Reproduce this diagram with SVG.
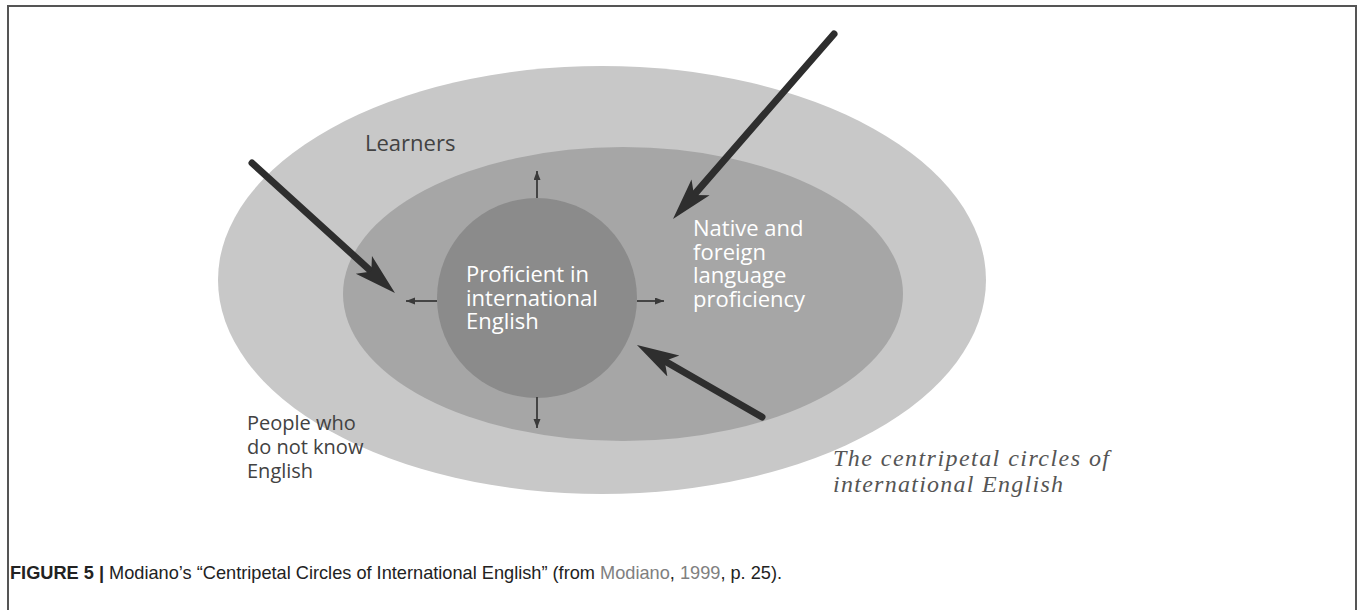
<svg xmlns="http://www.w3.org/2000/svg" width="1358" height="610" viewBox="0 0 1358 610">
  <style>
    .label { font-family: "Open Sans", "Noto Sans", sans-serif; font-size: 22px; }
    .small-label { font-size: 20px; }
    .light { fill: #ffffff; }
    .dark { fill: #424242; }
    .note { font-family: "Liberation Serif", serif; font-style: italic; font-size: 24px; fill: #555555; }
    .caption { font-family: "Liberation Sans", Arial, sans-serif; font-size: 18.2px; fill: #222222; }
    .cite { fill: #808080; }
    .big { fill: none; stroke: #2e2e2e; stroke-width: 7; stroke-linecap: round; marker-end: url(#bigHead); }
    .small { fill: none; stroke: #3a3a3a; stroke-width: 1.8; marker-end: url(#smallHead); }
  </style>
  <defs>
    <marker id="bigHead" markerUnits="userSpaceOnUse" markerWidth="44" markerHeight="28" refX="10" refY="14" orient="auto">
      <path d="M0,2 L42,14 L0,26 L10,14 Z" fill="#2e2e2e"/>
    </marker>
    <marker id="smallHead" markerUnits="userSpaceOnUse" markerWidth="10" markerHeight="8" refX="9" refY="3.5" orient="auto">
      <path d="M0,0 L9,3.5 L0,7 Z" fill="#3a3a3a"/>
    </marker>
  </defs>

  <rect width="1358" height="610" fill="#ffffff"/>
  <!-- figure frame (open at the bottom) -->
  <rect x="8" y="6" width="1348" height="640" fill="none" stroke="#555555" stroke-width="2"/>

  <g id="outer-circle">
    <ellipse cx="602" cy="280" rx="384" ry="214" fill="#c8c8c8"/>
    <text class="label dark" x="365" y="151">Learners</text>
  </g>

  <g id="middle-circle">
    <ellipse cx="623" cy="294" rx="280" ry="147" fill="#a6a6a6"/>
    <text class="label light">
      <tspan x="693" y="236">Native and</tspan>
      <tspan x="693" y="259.5">foreign</tspan>
      <tspan x="693" y="283">language</tspan>
      <tspan x="693" y="306.5">proficiency</tspan>
    </text>
  </g>

  <g id="inner-circle">
    <circle cx="537" cy="298" r="100" fill="#8b8b8b"/>
    <text class="label light">
      <tspan x="466" y="282">Proficient in</tspan>
      <tspan x="466" y="305.5">international</tspan>
      <tspan x="466" y="329">English</tspan>
    </text>
  </g>

  <g id="outside">
    <text class="label small-label dark">
      <tspan x="247" y="430">People who</tspan>
      <tspan x="247" y="454">do not know</tspan>
      <tspan x="247" y="478">English</tspan>
    </text>
  </g>

  <g id="connectors">
    <!-- heavy inward arrows -->
    <path class="big" d="M252,163 L371.3,271.5"/>
    <path class="big" d="M834,34 L694,194.9"/>
    <path class="big" d="M762,417 L664.7,361"/>
    <!-- thin outward arrows from the inner circle -->
    <path class="small" d="M537,198 L537,171"/>
    <path class="small" d="M537,397 L537,428"/>
    <path class="small" d="M437,301 L406,301"/>
    <path class="small" d="M637,301 L664,301"/>
  </g>

  <g id="title-note">
    <text class="note" x="833" y="466" textLength="276" lengthAdjust="spacing">The centripetal circles of</text>
    <text class="note" x="833" y="492" textLength="230" lengthAdjust="spacing">international English</text>
  </g>

  <g id="caption">
    <text class="caption" x="10" y="579"><tspan font-weight="bold">FIGURE 5 |</tspan> Modiano’s “Centripetal Circles of International English” (from <tspan class="cite">Modiano</tspan>, <tspan class="cite">1999</tspan>, p. 25).</text>
  </g>
</svg>
